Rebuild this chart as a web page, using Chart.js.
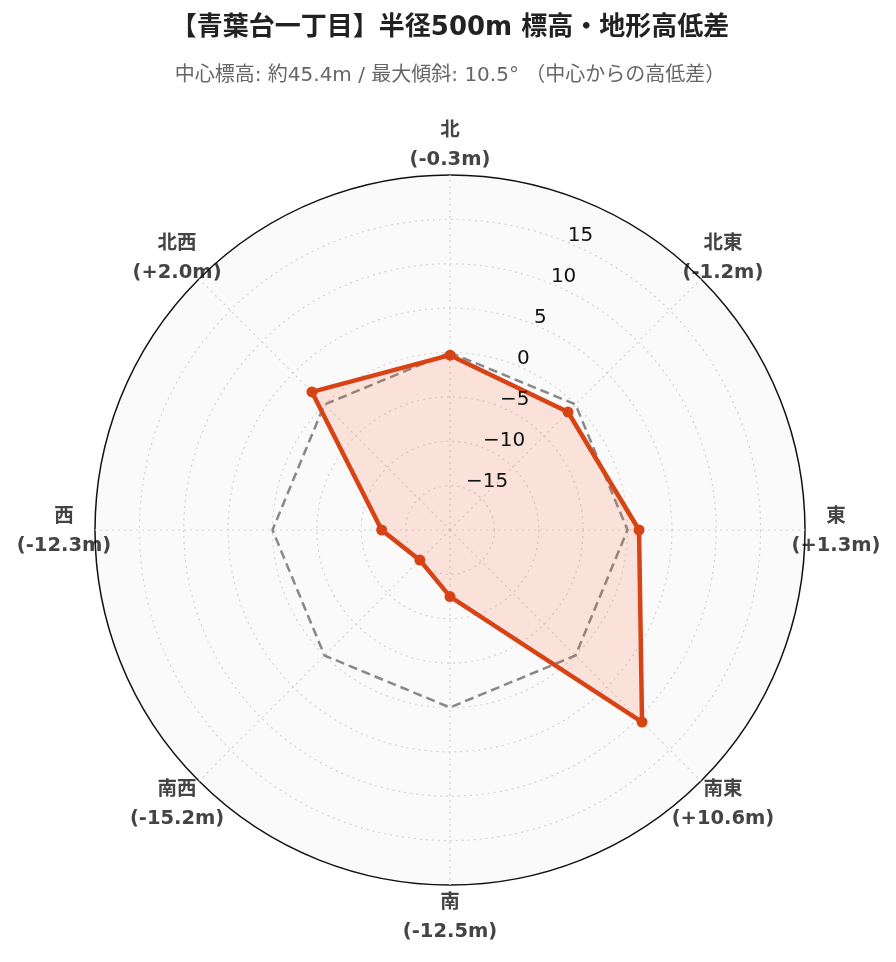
<!DOCTYPE html>
<html lang="ja">
<head>
<meta charset="utf-8">
<title>青葉台一丁目 標高・地形高低差</title>
<script src="https://cdn.jsdelivr.net/npm/chart.js@4.4.1/dist/chart.umd.min.js"></script>
<style>
  html, body { margin: 0; padding: 0; background: #fff; }
  #wrap { width: 896px; height: 962px; }
</style>
</head>
<body>
<div id="wrap"><canvas id="terrainChart"></canvas></div>
<script>
// 方位ごとの中心からの高低差 (m)
const directions = ["北", "北東", "東", "南東", "南", "南西", "西", "北西"];
const elevationDiff = [-0.3, -1.2, 1.3, 10.6, -12.5, -15.2, -12.3, 2.0];
const zeroLine = [0, 0, 0, 0, 0, 0, 0, 0];
const tickValues = [-15, -10, -5, 0, 5, 10, 15];

const FONT = "'DejaVu Sans', 'Noto Sans CJK JP', sans-serif";

const fmtDiff = (v) => (v > 0 ? "+" : v < 0 ? "-" : "") + Math.abs(v).toFixed(1) + "m";
const fmtTick = (v) => (v < 0 ? "\u2212" + Math.abs(v) : String(v));

// circle background + direction labels (drawn under the grid)
const polarExtras = {
  id: "polarExtras",
  beforeDraw(chart) {
    const s = chart.scales.r;
    const ctx = chart.ctx;
    ctx.save();
    ctx.beginPath();
    ctx.arc(s.xCenter, s.yCenter, s.drawingArea, 0, Math.PI * 2);
    ctx.fillStyle = "#fafafa";
    ctx.fill();

    ctx.fillStyle = "#444";
    ctx.font = "bold 19.5px " + FONT;
    ctx.textAlign = "center";
    ctx.textBaseline = "middle";
    directions.forEach((d, i) => {
      const p = s.getPointPosition(i, s.drawingArea + 31);
      ctx.fillText(d, p.x, p.y - 13);
      ctx.fillText("(" + fmtDiff(elevationDiff[i]) + ")", p.x, p.y + 16);
    });
    ctx.restore();
  },
  afterDatasetsDraw(chart) {
    const s = chart.scales.r;
    const ctx = chart.ctx;
    ctx.save();
    ctx.fillStyle = "#111";
    ctx.font = "20px " + FONT;
    ctx.textAlign = "left";
    ctx.textBaseline = "alphabetic";
    tickValues.forEach((v) => {
      const p = s.getPointPosition(0.5, s.getDistanceFromCenterForValue(v));
      ctx.fillText(fmtTick(v), p.x - 1, p.y - 2);
    });
    ctx.restore();
  },
};

const ctx = document.getElementById("terrainChart").getContext("2d");
new Chart(ctx, {
  type: "radar",
  data: {
    labels: directions,
    datasets: [
      {
        label: "高低差",
        data: elevationDiff,
        borderColor: "#d84315",
        backgroundColor: "rgba(255, 87, 34, 0.15)",
        borderWidth: 4.5,
        pointRadius: 5.5,
        pointBackgroundColor: "#d84315",
        pointBorderWidth: 0,
        fill: "start",
      },
      {
        label: "基準 (0m)",
        data: zeroLine,
        borderColor: "#888",
        borderWidth: 2.5,
        borderDash: [9, 5],
        pointRadius: 0,
        fill: false,
      },
    ],
  },
  options: {
    responsive: true,
    maintainAspectRatio: false,
    animation: false,
    layout: { padding: { left: 95, right: 91, top: 0, bottom: 77 } },
    plugins: {
      legend: { display: false },
      tooltip: { enabled: false },
      title: {
        display: true,
        text: "【青葉台一丁目】半径500m 標高・地形高低差",
        color: "#222",
        font: { family: FONT, size: 26, weight: "bold", lineHeight: 1.2 },
        padding: { top: 12.4, bottom: 8 },
      },
      subtitle: {
        display: true,
        text: "中心標高: 約45.4m / 最大傾斜: 10.5° （中心からの高低差）",
        color: "#666",
        font: { family: FONT, size: 20, lineHeight: 1.2 },
        padding: { top: 12.4, bottom: 87 },
      },
    },
    scales: {
      r: {
        min: -20,
        max: 20,
        ticks: { stepSize: 5, display: false },
        pointLabels: { display: false },
        grid: {
          circular: true,
          color: (c) => (c.tick && c.tick.value === 20 ? "#111" : "#d4d4d4"),
          lineWidth: (c) => (c.tick && c.tick.value === 20 ? 1.5 : 1.2),
        },
        border: {
          dash: (c) => (c.tick && c.tick.value === 20 ? [] : [2, 4]),
        },
        angleLines: {
          color: "#d4d4d4",
          lineWidth: 1.2,
          borderDash: [2, 4],
        },
      },
    },
  },
  plugins: [polarExtras],
});
</script>
</body>
</html>
